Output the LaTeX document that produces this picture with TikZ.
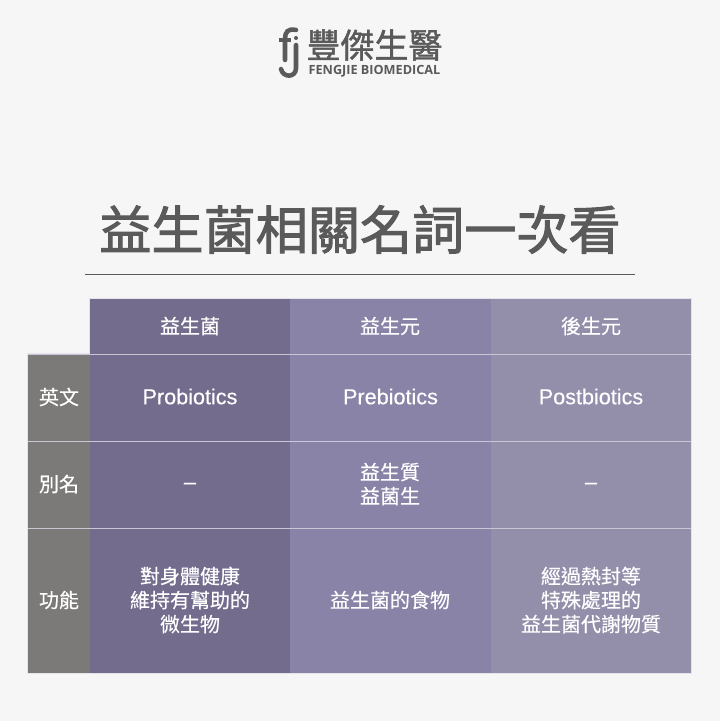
\documentclass[tikz,border=0pt]{standalone}
\usepackage{fontspec}
\setmainfont{Liberation Sans}
\newfontfamily\enfont[FakeBold=0.25]{Liberation Sans}
\newfontfamily\cjk[FakeBold=0.35]{Noto Sans CJK TC}
\newfontfamily\cjktitle[FakeBold=1.9]{Noto Sans CJK TC}
\newfontfamily\cjklogo[FakeBold=1.3]{Noto Sans CJK TC}
\newfontfamily\logofont{Open Sans}
\usetikzlibrary{calc}
\usetikzlibrary{positioning}
\definecolor{pagebg}{HTML}{F6F6F6}
\definecolor{inkgray}{HTML}{5A5A5A}
\definecolor{rowgray}{HTML}{7B7A79}
\definecolor{probio}{HTML}{736C8D}
\definecolor{prebio}{HTML}{8A83A8}
\definecolor{postbio}{HTML}{938FAB}
\definecolor{gridline}{HTML}{C9C6D6}
\definecolor{edgeline}{HTML}{E4E3E9}
\begin{document}
\begin{tikzpicture}[x=0.75pt,y=-0.75pt,
    cell/.style={inner sep=0pt,outer sep=0pt,text=white,align=center,
      font=\cjk\fontsize{15}{18}\selectfont},
    enword/.style={text=white,font=\enfont\fontsize{16.2}{18}\selectfont},
    logostroke/.style={draw=inkgray,line width=3.4pt,line cap=round}]
    \useasboundingbox[fill=pagebg] (0,0) rectangle (720,721);

    % logo
    \draw[logostroke] (296,30) .. controls (288,28) and (285,32) .. (285,39) -- (285,60);
    \draw[logostroke,line cap=butt] (279,40) -- (291,40);
    \draw[logostroke] (296,45) -- (296,68) .. controls (296,78) and (283,78) .. (281,69);
    \node[inner sep=1pt,fill=inkgray,circle,minimum size=3pt](logodot) at (296,38) {};
    \node[text=inkgray,font=\cjklogo\fontsize{25.5}{26}\selectfont,inner sep=0pt](logozh) at (374.5,45) {豐傑生醫};
    \node[text=inkgray,font=\logofont\bfseries\fontsize{9.5}{10}\selectfont,inner sep=0pt](logoen) at (374.5,71.5) {FENGJIE BIOMEDICAL};

    % title
    \node[text=inkgray,font=\cjktitle\fontsize{39.1}{40}\selectfont,inner sep=0pt](title) at (360,229.5) {益生菌相關名詞一次看};
    \coordinate (rulel) at (85,274.5);
    \coordinate (ruler) at (634.5,274.5);
    \draw[inkgray,line width=0.75pt] (rulel) -- (ruler);

    % columns
    \draw[edgeline,line width=1pt] (89.5,298.5) -- (691.5,298.5) -- (691.5,673.5)
      -- (27.5,673.5) -- (27.5,353.5) -- (89.5,353.5) -- cycle;
    \foreach \n/\x/\w/\c in {a/90/200/probio, b/290/201/prebio, c/491/200/postbio}{
        \fill[\c] (\x,299) rectangle ++(\w,374);
      }
    \fill[rowgray] (28,354) rectangle (90,673);

    % row lines
    \coordinate (line1l) at (28,354.5);
    \coordinate (line1r) at (691,354.5);
    \coordinate (line2l) at (28,441.5);
    \coordinate (line2r) at (691,441.5);
    \coordinate (line3l) at (28,528.5);
    \coordinate (line3r) at (691,528.5);
    \foreach \a/\b in {(line1l)/(line1r), (line2l)/(line2r), (line3l)/(line3r)}
    \draw[gridline,line width=0.75pt] \a -- \b;

    % head row
    \node[cell](heada) at (190,326) {益生菌};
    \node[cell](headb) at (390,326) {益生元};
    \node[cell](headc) at (591,326) {後生元};

    % row titles
    \node[cell](rowen) at (59,397) {英文};
    \node[cell](rowalt) at (59,484) {別名};
    \node[cell](rowuse) at (59,600) {功能};

    % english names
    \node[enword](ena) at (190,396.5) {Probiotics};
    \node[enword](enb) at (390.5,396.5) {Prebiotics};
    \node[enword](enc) at (591,396.5) {Postbiotics};

    % other names
    \node[enword](alta) at (190,486) {–};
    \node[cell](altb) at (390,484) {益生質\\益菌生};
    \node[enword](altc) at (591,486) {–};

    % use
    \node[cell](usea) at (190,600) {對身體健康\\維持有幫助的\\微生物};
    \node[cell](useb) at (390,600) {益生菌的食物};
    \node[cell](usec) at (591,600) {經過熱封等\\特殊處理的\\益生菌代謝物質};
  \end{tikzpicture}
\end{document}
